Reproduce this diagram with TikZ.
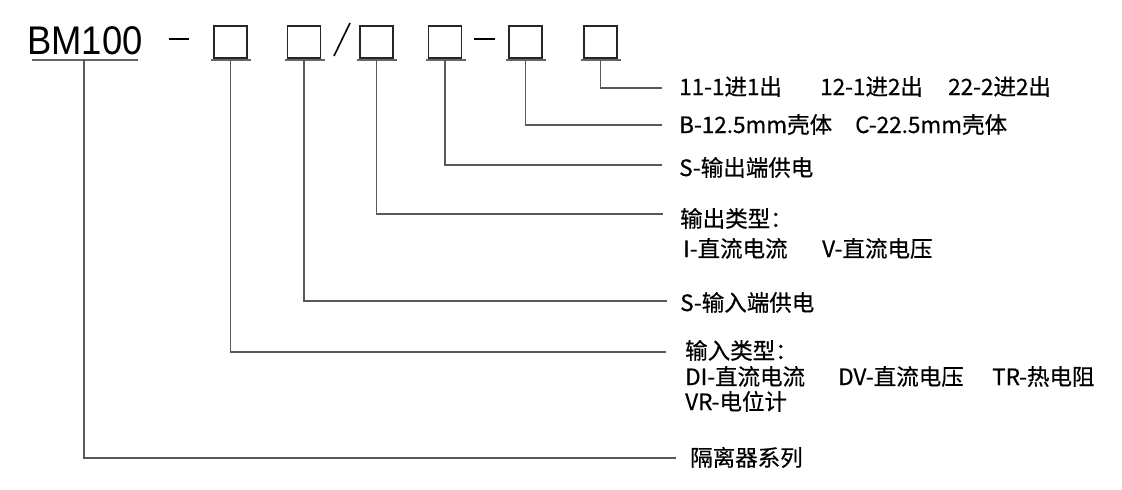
\documentclass[tikz,border=0pt]{standalone}
\usepackage{fontspec}
\setmainfont{Liberation Sans}
\newfontfamily\cjk{Noto Sans CJK SC}[FakeBold=0.5]
\usetikzlibrary{calc}
\begin{document}
\begin{tikzpicture}[x=1pt,y=-1pt,
  codebox/.style={draw=black!85,line width=1.3pt,minimum width=33pt,minimum height=32pt,inner sep=0pt,outer sep=0pt},
  uline/.style={draw=black!60,line width=1.4pt},
  conn/.style={draw=black!65,line width=1.3pt},
  lbl/.style={anchor=base west,inner sep=0pt,font=\cjk\fontsize{22.5}{26}\selectfont}]
\useasboundingbox (0,0) rectangle (1122,490);
% title
\node[anchor=base west,inner sep=0pt] (bm) at (27,54) {\fontsize{40}{44}\selectfont\scalebox{0.91}[1]{BM100}};
\draw[uline] (32,60) -- (138,60);
\coordinate (bmr) at (84,60);
% dashes and slash
\node[inner sep=0pt,minimum width=20pt,minimum height=2.2pt,fill=black] (d1) at (179,39) {};
\node[inner sep=0pt,minimum width=21pt,minimum height=2.2pt,fill=black] (d2) at (484.5,39) {};
\draw[line width=1.6pt] (334,56) coordinate (s1) -- (350,23) coordinate (s2);
% boxes
\node[codebox] (b1) at (230.5,42) {};
\node[codebox] (b2) at (304,42) {};
\node[codebox] (b3) at (376.5,42) {};
\node[codebox] (b4) at (445,42) {};
\node[codebox] (b5) at (525.5,42) {};
\node[codebox] (b6) at (600.5,42) {};
\foreach \b in {b1,b2,b3,b4,b5,b6}{
  \draw[uline] ($(\b.south west)+(-3,2)$) -- ($(\b.south east)+(4,2)$);
}
% end coordinates of connectors
\coordinate (e6) at (662,88);
\coordinate (e5) at (662,125);
\coordinate (e4) at (662,165);
\coordinate (e3) at (663,214);
\coordinate (e2) at (667,301);
\coordinate (e1) at (666,352);
\coordinate (e0) at (676,458);
\draw[conn] ($(b6.south)+(0,2)$) |- (e6);
\draw[conn] ($(b5.south)+(0,2)$) |- (e5);
\draw[conn] ($(b4.south)+(0,2)$) |- (e4);
\draw[conn] ($(b3.south)+(0,2)$) |- (e3);
\draw[conn] ($(b2.south)+(0,2)$) |- (e2);
\draw[conn] ($(b1.south)+(0,2)$) |- (e1);
\draw[conn] (bmr) |- (e0);
% labels
\node[lbl] (t6a) at (679,95) {11-1进1出};
\node[lbl] (t6b) at (820,95) {12-1进2出};
\node[lbl] (t6c) at (948,95) {22-2进2出};
\node[lbl] (t5a) at (679,133) {B-12.5mm壳体};
\node[lbl] (t5b) at (855,133) {C-22.5mm壳体};
\node[lbl] (t4) at (679,176) {S-输出端供电};
\node[lbl] (t3) at (680,227) {输出类型：};
\node[lbl] (t3a) at (683,257) {I-直流电流};
\node[lbl] (t3b) at (822,257) {V-直流电压};
\node[lbl] (t2) at (680,311) {S-输入端供电};
\node[lbl] (t1) at (685,359) {输入类型：};
\node[lbl] (t1a) at (685,385) {DI-直流电流};
\node[lbl] (t1b) at (838,385) {DV-直流电压};
\node[lbl] (t1c) at (992,385) {TR-热电阻};
\node[lbl] (t1d) at (685,410) {VR-电位计};
\node[lbl] (t0) at (690,466) {隔离器系列};
\end{tikzpicture}
\end{document}
